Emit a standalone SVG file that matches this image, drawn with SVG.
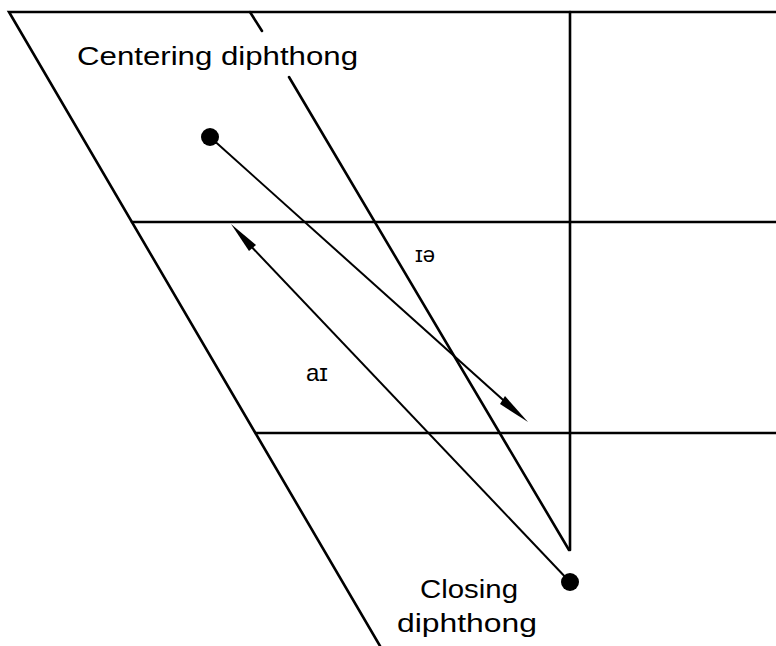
<svg xmlns="http://www.w3.org/2000/svg" width="776" height="646" viewBox="0 0 776 646">
<style>
.ln{stroke:#000;stroke-width:2.6;fill:none;stroke-linecap:round}
.thin{stroke:#000;stroke-width:2;fill:none}
.lbl{font-family:"Liberation Sans",Arial,sans-serif;fill:#000}
</style>
<rect width="776" height="646" fill="#fff"/>
<g id="chart">
<polyline class="ln" points="776,12 9,12 380,646"/>
<line class="ln" x1="570" y1="12" x2="570" y2="550"/>
<line class="ln" x1="132" y1="222" x2="776" y2="222"/>
<line class="ln" x1="256" y1="433" x2="776" y2="433"/>
<line class="ln" x1="250" y1="12" x2="262" y2="31"/>
<line class="ln" x1="289" y1="77" x2="569" y2="550"/>
</g>
<g id="connectors">
<line class="thin" x1="210" y1="137" x2="512" y2="408"/>
<polygon points="528,422 500,404 505,396"/>
<line class="thin" x1="570" y1="582" x2="246" y2="241"/>
<polygon points="231,224 256,245 249,251"/>
</g>
<g id="dot-start">
<circle cx="210" cy="137" r="9"/>
</g>
<g id="dot-end">
<circle cx="570" cy="582" r="9"/>
</g>
<g id="labels">
<text class="lbl" x="77" y="65" font-size="26" textLength="281" lengthAdjust="spacingAndGlyphs">Centering diphthong</text>
<text class="lbl" x="415" y="262" font-size="22">ɪə</text>
<text class="lbl" x="306" y="381" font-size="24">aɪ</text>
<text class="lbl" x="420" y="598" font-size="26" textLength="98" lengthAdjust="spacingAndGlyphs">Closing</text>
<text class="lbl" x="397" y="632" font-size="26" textLength="140" lengthAdjust="spacingAndGlyphs">diphthong</text>
</g>
</svg>
